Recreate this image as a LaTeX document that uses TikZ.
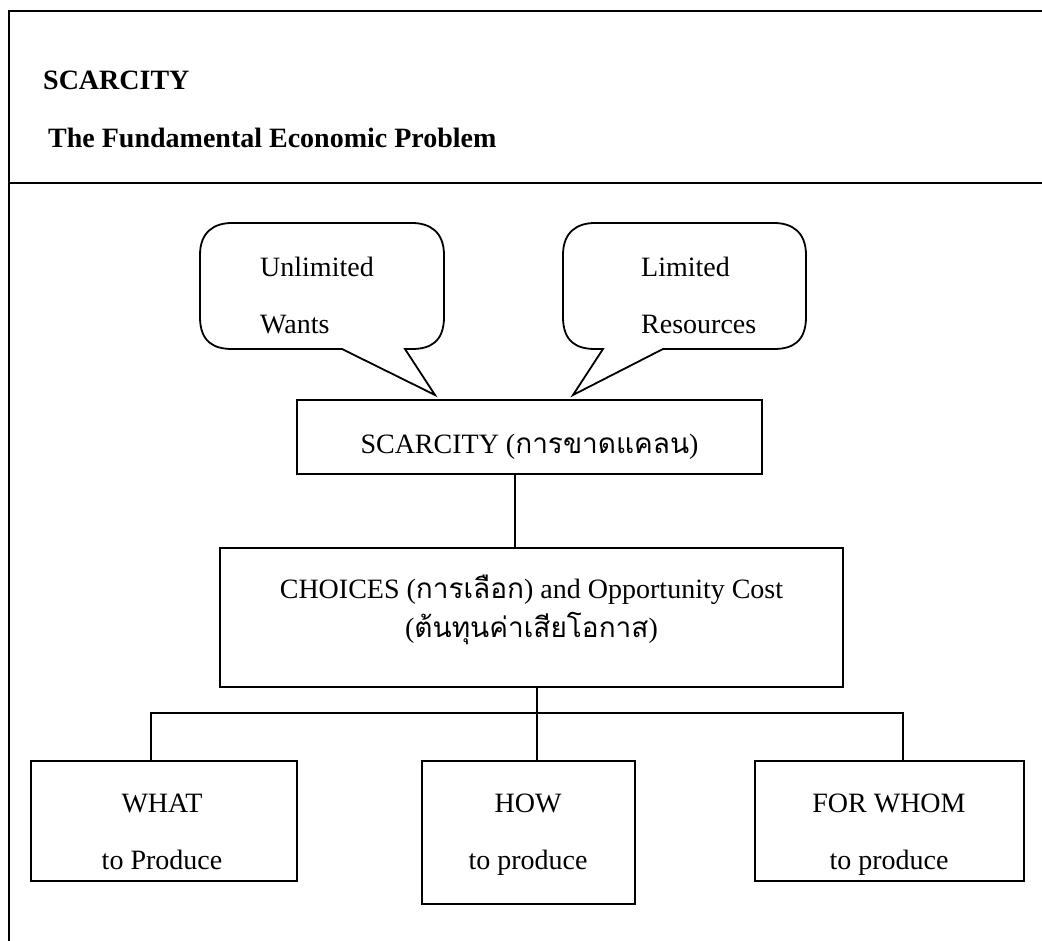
\documentclass[tikz,border=0pt]{standalone}
\usepackage{fontspec}
\setmainfont{Liberation Serif}
\newfontfamily\thaifont[Script=Thai]{Loma}
\tikzset{
  ln/.style={line width=1.8pt, draw=black},
  boxnode/.style={ln, rectangle, inner sep=0pt, fill=white},
  txt/.style={inner sep=0pt, font=\fontsize{28}{34}\selectfont},
  ttl/.style={inner sep=0pt, font=\fontsize{28}{34}\selectfont\bfseries},
}
\begin{document}
\begin{tikzpicture}[x=1pt,y=-1pt]
\useasboundingbox (0,0) rectangle (1042,941);
% frame
\coordinate (ftl) at (9,11);
\coordinate (ftr) at (1042,11);
\coordinate (fbl) at (9,941);
\coordinate (fdl) at (9,183);
\coordinate (fdr) at (1042,183);
\draw[ln] (ftr) -- (ftl) -- (fbl);
\draw[ln] (fdl) -- (fdr);
% header
\node[ttl, anchor=base west] (h1) at (43,90) {SCARCITY};
\node[ttl, anchor=base west] (h2) at (48,148) {The Fundamental Economic Problem};
% speech bubbles
\draw[ln, line join=miter] (342,349) -- (232,349) .. controls (214,349) and (200,342) .. (200,317) -- (200,255)
  .. controls (200,232) and (214,223) .. (232,223) -- (412,223) .. controls (430,223) and (444,232) .. (444,255)
  -- (444,317) .. controls (444,342) and (430,349) .. (412,349) -- (405,349) -- (435,395) -- cycle;
\draw[ln, line join=miter] (603,349) -- (595,349) .. controls (577,349) and (563,342) .. (563,317) -- (563,255)
  .. controls (563,232) and (577,223) .. (595,223) -- (774,223) .. controls (792,223) and (806,232) .. (806,255)
  -- (806,317) .. controls (806,342) and (792,349) .. (774,349) -- (663,349) -- (573,395) -- cycle;
\node[txt, anchor=base west] (uw1) at (260,277) {Unlimited};
\node[txt, anchor=base west] (uw2) at (260,334) {Wants};
\node[txt, anchor=base west] (lr1) at (641,277) {Limited};
\node[txt, anchor=base west] (lr2) at (641,334) {Resources};
% boxes
\node[boxnode, minimum width=465pt, minimum height=74pt] (scar) at (529.5,437) {};
\node[boxnode, minimum width=623pt, minimum height=139pt] (choice) at (531.5,617.5) {};
\node[boxnode, minimum width=266pt, minimum height=120pt] (what) at (164,821) {};
\node[boxnode, minimum width=213pt, minimum height=143pt] (how) at (528.5,832.5) {};
\node[boxnode, minimum width=269pt, minimum height=120pt] (whom) at (889.5,821) {};
% texts
\node[txt, anchor=base] (scart) at (529.5,453) {SCARCITY ({\thaifont การขาดแคลน})};
\node[txt, anchor=base] (ch1) at (531.5,598) {CHOICES ({\thaifont การเลือก}) and Opportunity Cost};
\node[txt, anchor=base] (ch2) at (531.5,637) {({\thaifont ต้นทุนค่าเสียโอกาส})};
\node[txt, anchor=base] (wt1) at (162,812) {WHAT};
\node[txt, anchor=base] (wt2) at (162,869) {to Produce};
\node[txt, anchor=base] (hw1) at (528,812) {HOW};
\node[txt, anchor=base] (hw2) at (528,869) {to produce};
\node[txt, anchor=base] (fw1) at (889,812) {FOR WHOM};
\node[txt, anchor=base] (fw2) at (889,869) {to produce};
% connectors
\draw[ln] ([xshift=-14.5pt]scar.south) -- ([xshift=-16.5pt]choice.north);
\coordinate (bus) at (537,713);
\draw[ln] ([xshift=5.5pt]choice.south) -- ([xshift=8.5pt]how.north);
\draw[ln] ([xshift=-13pt]what.north) |- (bus);
\draw[ln] ([xshift=13.5pt]whom.north) |- (bus);
\end{tikzpicture}
\end{document}
